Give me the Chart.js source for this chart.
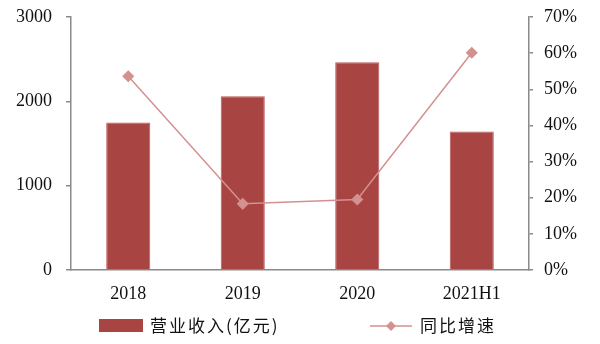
<!DOCTYPE html>
<html>
<head>
<meta charset="utf-8">
<script src="https://cdn.jsdelivr.net/npm/chart.js@4/dist/chart.umd.min.js"></script>
<style>
  html, body { margin: 0; padding: 0; background: #fff; }
  #wrap { width: 600px; height: 344px; position: relative; }
</style>
</head>
<body>
<div id="wrap"><canvas id="revenue-chart"></canvas></div>
<script>
// Дані
const categories = ["2018", "2019", "2020", "2021H1"];
const revenue = [1750, 2059, 2463, 1643];      // 营业收入(亿元)
const growth = [53.6, 18.3, 19.5, 60.1];       // 同比增速, %
const seriesNames = ["营业收入(亿元)", "同比增速"];

const barColor = "#a84543";
const lineColor = "#d39190";
const axisColor = "#8a8a8a";
const serif = "'Liberation Serif', 'Times New Roman', serif";
const cjk = "'Noto Sans CJK SC', sans-serif";

// легенда малюється вручну (лінія + ромб)
const legendPlugin = {
  id: "customLegend",
  afterDraw(chart) {
    const ctx = chart.ctx;
    const y = 326;
    ctx.save();
    ctx.fillStyle = barColor;
    ctx.fillRect(99, 319, 44, 13);
    ctx.strokeStyle = lineColor;
    ctx.lineWidth = 1.5;
    ctx.beginPath();
    ctx.moveTo(370, y);
    ctx.lineTo(412, y);
    ctx.stroke();
    ctx.fillStyle = lineColor;
    ctx.beginPath();
    ctx.moveTo(391, y - 5);
    ctx.lineTo(396, y);
    ctx.lineTo(391, y + 5);
    ctx.lineTo(386, y);
    ctx.closePath();
    ctx.fill();
    ctx.fillStyle = "#111";
    ctx.font = "17px " + cjk;
    ctx.textBaseline = "middle";
    ctx.letterSpacing = "2px";
    ctx.fillText(seriesNames[0], 150, y);
    ctx.fillText(seriesNames[1], 420, y);
    ctx.restore();
  },
};

// фіксована ширина осі, без зайвого відступу зверху/знизу
function fitY(scale) {
  scale.width = 71;
  scale.paddingTop = 0;
  scale.paddingBottom = 0;
}

const config = {
  type: "bar",
  data: {
    labels: categories,
    datasets: [
      {
        type: "bar",
        label: seriesNames[0],
        data: revenue,
        yAxisID: "y",
        backgroundColor: barColor,
        borderColor: "#b85a58",
        borderWidth: 1,
        barPercentage: 0.385,
        categoryPercentage: 1,
        order: 1,
      },
      {
        type: "line",
        label: seriesNames[1],
        data: growth,
        yAxisID: "y1",
        borderColor: lineColor,
        backgroundColor: lineColor,
        borderWidth: 1.5,
        pointStyle: "rectRot",
        pointRadius: 5,
        pointHoverRadius: 5,
        tension: 0,
        order: 0,
      },
    ],
  },
  options: {
    responsive: true,
    maintainAspectRatio: false,
    animation: false,
    layout: { padding: { top: 17, bottom: 34, left: 0, right: 0 } },
    plugins: {
      legend: { display: false },
      tooltip: { enabled: false },
    },
    scales: {
      x: {
        grid: { display: false },
        border: { display: true, color: axisColor, width: 1.5 },
        ticks: { color: "#111", font: { family: serif, size: 18 }, padding: 5 },
        afterFit(scale) { scale.height = 40; },
      },
      y: {
        position: "left",
        min: 0,
        max: 3000,
        ticks: {
          stepSize: 1000,
          color: "#111",
          font: { family: serif, size: 18 },
          padding: 14,
          callback: (v) => String(v),
        },
        grid: { drawOnChartArea: false, tickLength: 5, color: axisColor, lineWidth: 1.5 },
        border: { color: axisColor, width: 1.5 },
        afterFit: fitY,
      },
      y1: {
        position: "right",
        min: 0,
        max: 70,
        ticks: {
          stepSize: 10,
          color: "#111",
          font: { family: serif, size: 18 },
          padding: 11,
          callback: (v) => v + "%",
        },
        grid: { drawOnChartArea: false, tickLength: 4, color: axisColor, lineWidth: 1.5 },
        border: { color: axisColor, width: 1.5 },
        afterFit: fitY,
      },
    },
  },
  plugins: [legendPlugin],
};

const ctx = document.getElementById("revenue-chart");
const revenueChart = new Chart(ctx, config);
</script>
</body>
</html>
